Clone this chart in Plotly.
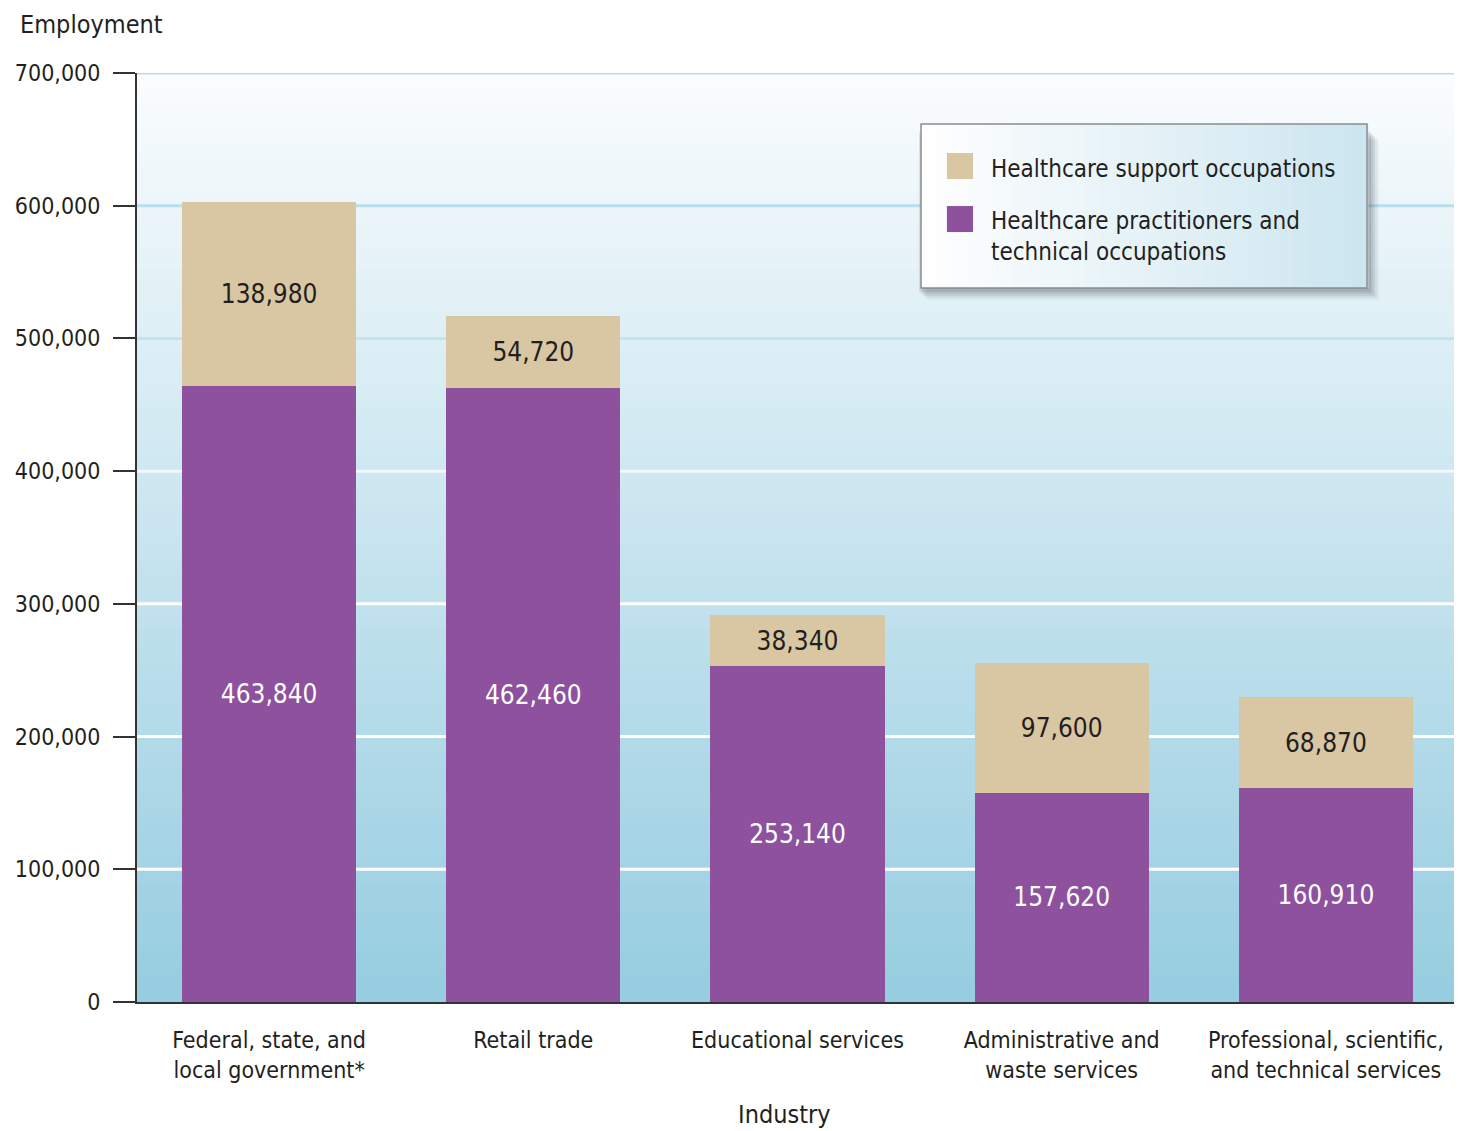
import numpy as np
import plotly.graph_objects as go

# Data
industries = ['Federal, state, and<br>local government*', 'Retail trade', 'Educational services',
              'Administrative and<br>waste services', 'Professional, scientific,<br>and technical services']
practitioners = [463840, 462460, 253140, 157620, 160910]
support = [138980, 54720, 38340, 97600, 68870]
y_ticks = [0, 100000, 200000, 300000, 400000, 500000, 600000, 700000]
y_ticklabels = ['0', '100,000', '200,000', '300,000', '400,000', '500,000', '600,000', '700,000']
grid_colors = ['#FFFFFF', '#FFFFFF', '#FFFFFF', '#FFFFFF', '#F2F9FC', '#C4E3EE', '#B9DFEC', '#B7DFEB']

PURPLE = '#8E519E'
TAN = '#D9C7A3'
TXT = '#231F20'
FONT = 'DejaVu Sans Condensed, Roboto, sans-serif'

fig = go.Figure()

fig.add_trace(go.Bar(
    x=industries, y=practitioners, name='Healthcare practitioners and<br>technical occupations',
    marker=dict(color=PURPLE, line=dict(width=0)),
    text=[f'{v:,}' for v in practitioners], textposition='inside', insidetextanchor='middle',
    textfont=dict(color='white', size=26, family=FONT), showlegend=False
))
fig.add_trace(go.Bar(
    x=industries, y=support, name='Healthcare support occupations',
    marker=dict(color=TAN, line=dict(width=0)),
    text=[f'{v:,}' for v in support], textposition='inside', insidetextanchor='middle',
    textfont=dict(color=TXT, size=26, family=FONT), showlegend=False
))

shapes = []
# gradient background
n = 80
top = np.array([0xFB, 0xFD, 0xFE])
bot = np.array([0x96, 0xCD, 0xE1])
for i in range(n):
    c = top + (bot - top) * (i + 0.5) / n
    shapes.append(dict(type='rect', xref='paper', yref='paper', x0=0, x1=1,
                       y0=1 - (i + 1) / n, y1=1 - i / n + 0.001, layer='below',
                       fillcolor='rgb(%d,%d,%d)' % tuple(c.astype(int)), line=dict(width=0)))
# gridlines
for t, gc in zip(y_ticks[1:], grid_colors[1:]):
    shapes.append(dict(type='line', xref='paper', yref='y', x0=0, x1=1, y0=t, y1=t,
                       layer='below', line=dict(color=gc, width=3)))

# legend box with soft shadow
lx0, lx1, ly0, ly1 = 0.5935, 0.9311, 0.7686, 0.9451
for k, a in enumerate([0.05, 0.07, 0.09, 0.11, 0.13]):
    off = (12 - 2 * k)
    shapes.append(dict(type='rect', xref='paper', yref='paper',
                       x0=lx0 + (off - 6) / 1321, x1=lx1 + off / 1321,
                       y0=ly0 - off / 929, y1=ly1 - (off + 4) / 929,
                       fillcolor=f'rgba(60,70,80,{a})', line=dict(width=0)))
m = 30
lc0 = np.array([0xFF, 0xFF, 0xFF])
lc1 = np.array([0xCC, 0xE6, 0xF0])
for i in range(m):
    c = lc0 + (lc1 - lc0) * (i + 0.5) / m
    shapes.append(dict(type='rect', xref='paper', yref='paper',
                       x0=lx0 + (lx1 - lx0) * i / m, x1=lx0 + (lx1 - lx0) * (i + 1) / m + 0.001,
                       y0=ly0, y1=ly1, fillcolor='rgb(%d,%d,%d)' % tuple(c.astype(int)),
                       line=dict(width=0)))
shapes.append(dict(type='rect', xref='paper', yref='paper', x0=lx0, x1=lx1, y0=ly0, y1=ly1,
                   line=dict(color='#8C8C8C', width=1.5)))
# legend swatches
shapes.append(dict(type='rect', xref='paper', yref='paper', x0=0.6131, x1=0.6329,
                   y0=0.8859, y1=0.9139, fillcolor=TAN, line=dict(width=0)))
shapes.append(dict(type='rect', xref='paper', yref='paper', x0=0.6131, x1=0.6329,
                   y0=0.8288, y1=0.8568, fillcolor=PURPLE, line=dict(width=0)))

annotations = [
    dict(text='Healthcare support occupations', xref='paper', yref='paper', x=0.645, y=0.8967,
         xanchor='left', yanchor='middle', showarrow=False, font=dict(size=24, color=TXT, family=FONT)),
    dict(text='Healthcare practitioners and<br>technical occupations', xref='paper', yref='paper',
         x=0.645, y=0.8235, xanchor='left', yanchor='middle', align='left', showarrow=False,
         font=dict(size=24, color=TXT, family=FONT)),
    dict(text='Employment', xref='paper', yref='paper', x=-0.0901, y=1.0527, xanchor='left',
         yanchor='middle', showarrow=False, font=dict(size=25, color=TXT, family=FONT)),
    dict(text='Industry', xref='paper', yref='paper', x=0.4898, y=-0.1216, xanchor='center',
         yanchor='middle', showarrow=False, font=dict(size=25, color=TXT, family=FONT)),
]

fig.update_layout(
    barmode='stack', bargap=0.34,
    width=1454, height=1123,
    margin=dict(l=129, r=4, t=65, b=129),
    paper_bgcolor='white', plot_bgcolor='rgba(0,0,0,0)',
    font=dict(family=FONT, color=TXT, size=23),
    shapes=shapes, annotations=annotations,
    uniformtext=dict(minsize=20, mode='show'),
)
fig.update_yaxes(range=[0, 700000], tickvals=y_ticks, ticktext=y_ticklabels, showgrid=False,
                 ticks='outside', ticklen=22, tickwidth=1.5, tickcolor='#333333',
                 showline=True, linecolor='#333333', linewidth=2, zeroline=False,
                 tickfont=dict(size=23, color=TXT), ticklabelstandoff=8)
fig.update_xaxes(showgrid=False, ticks='', showline=True, linecolor='#333333', linewidth=2,
                 tickfont=dict(size=23, color=TXT), ticklabelstandoff=16)

fig.write_html('out.html')
